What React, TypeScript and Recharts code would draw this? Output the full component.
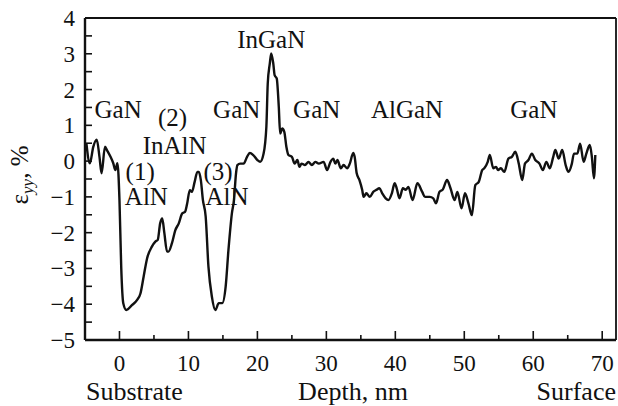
import React from 'react';
import { LineChart, Line, XAxis, YAxis, ReferenceLine, ReferenceDot } from 'recharts';

const depthNm = [
  -4.8, -4.3, -3.8, -3.3, -2.9, -2.6, -2.1, -1.8, -1.3, -0.9, -0.6, -0.3,
  0, 0.25, 0.55, 1.0, 1.84, 2.56, 3.04, 3.5, 4.0, 4.7, 5.2, 5.55, 5.9, 6.2, 6.5, 6.9, 7.1, 7.6,
  8.1, 8.6, 9.1, 9.5, 9.8, 10.2, 10.5, 10.9, 11.3, 11.5, 11.8, 12.1, 12.5, 12.9, 13.4, 13.9,
  14.4, 14.9, 15.4, 15.8, 16.3, 16.6, 16.9, 17.1, 17.5, 18.0, 18.5, 18.9, 19.4, 20.0, 20.4,
  20.9, 21.3, 21.5, 21.8, 22.0, 22.3, 22.5, 22.8, 23.1, 23.3, 23.6, 23.9, 24.2, 24.5, 25.0,
  25.4, 25.8, 26.1, 26.4, 26.9, 27.4, 27.9, 28.4, 28.9, 29.6, 30.1, 30.6, 31.0, 31.3, 31.6,
  32.1, 32.5, 33.0, 33.4, 33.9, 34.1, 34.4, 34.8, 35.2, 35.4, 35.8, 36.3, 36.8, 37.2, 37.7,
  38.1, 38.6, 39.0, 39.5, 39.9, 40.2, 40.6, 41.1, 41.5, 41.9, 42.5, 43.2, 43.9, 44.3, 45.0,
  45.5, 45.9, 46.4, 46.9, 47.5, 48.0, 48.6, 49.0, 49.6, 50.1, 50.6, 51.1, 51.6, 52.1, 52.6,
  52.9, 53.4, 53.7, 54.2, 54.6, 54.9, 55.3, 55.8, 56.4, 56.9, 57.4, 57.9, 58.4, 58.8, 59.3,
  59.8, 60.3, 60.9, 61.4, 61.9, 62.4, 62.9, 63.2, 63.7, 64.2, 64.7, 65.1, 65.6, 65.9, 66.4,
  66.8, 67.3, 67.7, 68.2, 68.5, 68.8, 69.0,
];

const strainPct = [
  0.5, -0.06, 0.4, 0.6, 0.12, -0.34, 0.4, 0.3, 0.12, -0.06, -0.25, -0.06,
  -1.1, -2.95, -3.97, -4.16, -4.02, -3.88, -3.7, -3.23, -2.72, -2.39, -2.25, -2.2, -1.74, -1.6, -2.0, -2.53, -2.53, -2.3,
  -1.93, -1.74, -1.46, -1.42, -1.2, -0.81, -0.86, -0.58, -0.3, -0.3, -0.53, -1.09, -1.55, -2.95, -3.79, -4.16,
  -3.97, -3.97, -3.5, -2.49, -1.46, -1.09, -0.34, -0.11, -0.07, -0.07, 0.12, 0.23, 0.17, 0.03, -0.02,
  0.21, 0.96, 2.17, 2.73, 3.01, 2.73, 2.4, 2.31, 1.52, 0.77, 0.91, 0.82, 0.4, 0.17, 0.12,
  -0.07, 0.03, -0.16, -0.07, -0.11, -0.02, -0.11, -0.02, -0.07, -0.02, -0.25, -0.02, 0.07, -0.07, 0.03,
  -0.2, -0.11, -0.2, -0.07, 0.23, 0.12, -0.34, -0.53, -0.81, -1.0, -0.9, -1.0, -0.86, -0.81, -0.76,
  -0.9, -1.04, -1.09, -0.9, -0.62, -0.76, -1.04, -0.76, -0.8, -0.72, -1.09, -0.62, -0.86, -1.0, -1.0,
  -1.04, -1.18, -0.86, -0.79, -0.53, -0.76, -1.09, -0.86, -1.32, -0.9, -1.18, -1.51, -0.67, -0.58, -0.25,
  -0.2, -0.02, 0.17, -0.2, -0.16, -0.25, -0.2, -0.3, 0.07, 0.12, 0.26, -0.07, -0.53, -0.07, 0.03,
  0.21, 0.03, -0.07, -0.25, -0.02, -0.2, 0.12, 0.31, 0.07, 0.31, -0.11, -0.3, -0.07, 0.21, 0.21,
  0.49, -0.02, 0.21, 0.45, 0.12, -0.48, 0.17,
];

const xTicks = [0, 5, 10, 15, 20, 25, 30, 35, 40, 45, 50, 55, 60, 65, 70];
const yTicks = [-5, -4.5, -4, -3.5, -3, -2.5, -2, -1.5, -1, -0.5, 0, 0.5, 1, 1.5, 2, 2.5, 3, 3.5, 4];

const annotLabels = ['GaN', '(2)', 'InAlN', '(1)', 'AlN', '(3)', 'AlN', 'GaN', 'InGaN', 'GaN', 'AlGaN', 'GaN'];
const annotX = [-0.2, 7.7, 8.0, 3.0, 3.9, 14.3, 15.6, 17.0, 22.0, 28.6, 41.7, 60.1];
const annotY = [1.42, 1.2, 0.42, -0.3, -1.0, -0.3, -1.0, 1.42, 3.38, 1.42, 1.42, 1.42];

const bottomLabels = ['Substrate', 'Depth, nm', 'Surface'];

const data = depthNm.map((d, i) => ({ depth: d, strain: strainPct[i] }));

const FONT = 'Liberation Serif, Times New Roman, DejaVu Serif, serif';
const TXT: React.CSSProperties = { fontFamily: FONT };

const fmt = (v: number) => (v < 0 ? '\u2212' + Math.abs(v) : String(v));

const YTick = (props: any) => {
  const { x, y, payload } = props;
  const v = payload.value;
  const isInt = Number.isInteger(v);
  return (
    <g>
      <line x1={x} x2={x + 7} y1={y} y2={y} stroke="#111" strokeWidth={1.6} />
      {isInt && (
        <text x={x - 10} y={y + 8} textAnchor="end" style={TXT} fontSize={23} fill="#111">
          {fmt(v)}
        </text>
      )}
    </g>
  );
};

const XTick = (props: any) => {
  const { x, y, payload } = props;
  const v = payload.value;
  const major = v % 10 === 0;
  return (
    <g>
      <line x1={x} x2={x} y1={y} y2={y - (major ? 9 : 5)} stroke="#111" strokeWidth={1.6} />
      {major && (
        <text x={x} y={y + 31} textAnchor="middle" style={TXT} fontSize={23} fill="#111">
          {fmt(v)}
        </text>
      )}
    </g>
  );
};

const XLabel = (props: any) => {
  const vb = props.viewBox;
  const base = vb.y + 60;
  return (
    <g fontSize={26} fill="#111">
      <text x={vb.x + 1} y={base} textAnchor="start" style={TXT}>{bottomLabels[0]}</text>
      <text x={353} y={base} textAnchor="middle" style={TXT}>{bottomLabels[1]}</text>
      <text x={vb.x + vb.width} y={base} textAnchor="end" style={TXT}>{bottomLabels[2]}</text>
    </g>
  );
};

const YLabel = () => (
  <text
    transform="translate(28,175) rotate(-90)"
    textAnchor="middle"
    style={TXT}
    fontSize={25}
    fill="#111"
  >
    <tspan>ε</tspan>
    <tspan fontSize={17} fontStyle="italic" dy={5}>yy</tspan>
    <tspan dy={-5}>, %</tspan>
  </text>
);

const AnnotLabel = (text: string) => (props: any) => {
  const vb = props.viewBox;
  const cx = vb.x + (vb.width || 0) / 2;
  const cy = vb.y + (vb.height || 0) / 2;
  return (
    <text x={cx} y={cy + 8} textAnchor="middle" style={TXT} fontSize={25} fill="#111">
      {text}
    </text>
  );
};

export default function App() {
  return (
    <div style={{ position: 'absolute', left: 0, top: 0, background: '#fff', fontFamily: FONT }}>
      <LineChart width={618} height={406} data={data} margin={{ top: 18, right: 2, bottom: 0, left: 0 }}>
        <XAxis
          dataKey="depth"
          type="number"
          domain={[-5, 72]}
          ticks={xTicks}
          interval={0}
          tickSize={0}
          tickMargin={0}
          tickLine={false}
          tick={<XTick />}
          axisLine={{ stroke: '#111', strokeWidth: 2.4 }}
          height={66}
          allowDataOverflow
          label={<XLabel />}
        />
        <YAxis
          type="number"
          domain={[-5, 4]}
          ticks={yTicks}
          interval={0}
          tickSize={0}
          tickMargin={0}
          tickLine={false}
          tick={<YTick />}
          axisLine={{ stroke: '#111', strokeWidth: 2.4 }}
          width={85}
          allowDataOverflow
          label={<YLabel />}
        />
        <ReferenceLine y={4} stroke="#111" strokeWidth={1.8} />
        <ReferenceLine x={72} stroke="#111" strokeWidth={1.8} />
        <Line
          type="monotone"
          dataKey="strain"
          stroke="#111"
          strokeWidth={2.4}
          dot={false}
          isAnimationActive={false}
        />
        {annotLabels.map((t, i) => (
          <ReferenceDot
            key={i}
            x={annotX[i]}
            y={annotY[i]}
            r={0}
            fill="none"
            stroke="none"
            label={AnnotLabel(t)}
          />
        ))}
      </LineChart>
    </div>
  );
}
